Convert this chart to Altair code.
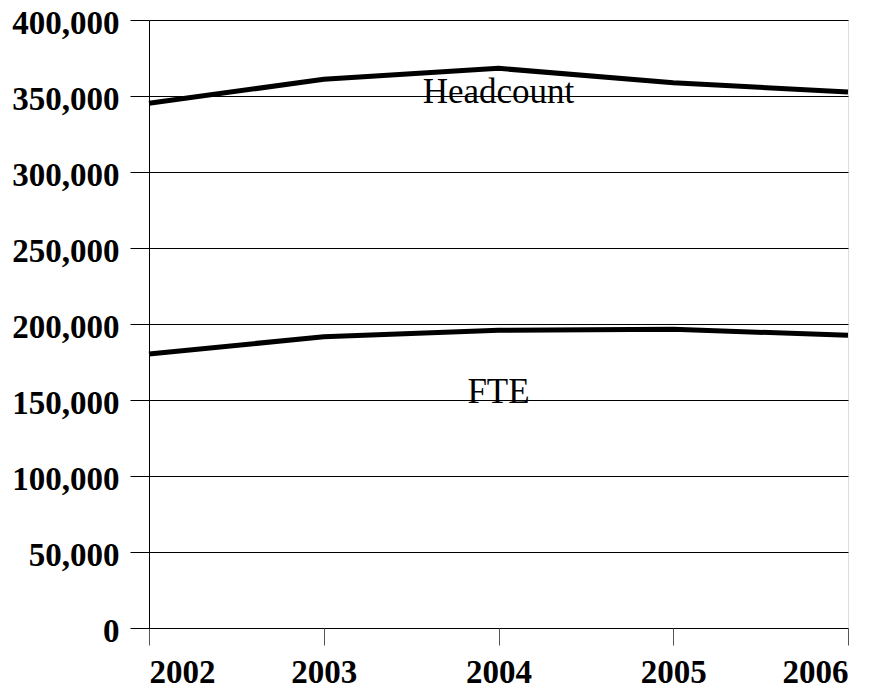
import altair as alt
import pandas as pd

years = [2002, 2003, 2004, 2005, 2006]
headcount = [345200, 361000, 368200, 358700, 352600]
fte = [180300, 191600, 195900, 196500, 192600]

label_text = ["Headcount", "FTE"]
label_year = [2004, 2004]
label_value = [345500, 148000]

rows = []
for y, v in zip(years, headcount):
    rows.append({"year": y, "value": v, "series": "Headcount"})
for y, v in zip(years, fte):
    rows.append({"year": y, "value": v, "series": "FTE"})
df = pd.DataFrame(rows)
labels = pd.DataFrame({"text": label_text, "year": label_year, "value": label_value})

x_scale = alt.Scale(domain=[2002, 2006], nice=False, zero=False)
y_scale = alt.Scale(domain=[0, 400000], nice=False)

x_axis = alt.Axis(
    values=years, format="d", grid=False, domain=False, tickColor="#555555",
    tickSize=17, labelPadding=11, labelFont="Liberation Serif", labelFontWeight="bold",
    labelFontSize=33, labelColor="black", title=None, labelOverlap=False,
)
y_axis = alt.Axis(
    values=[0, 50000, 100000, 150000, 200000, 250000, 300000, 350000, 400000],
    format=",d", grid=True, gridColor="black", gridWidth=1, gridOpacity=1,
    domain=True, domainColor="black", tickColor="black", tickSize=19,
    labelPadding=11, labelOffset=3, labelFont="Liberation Serif", labelFontWeight="bold",
    labelFontSize=33, labelColor="black", title=None,
)

lines = alt.Chart(df).mark_line(color="black", strokeWidth=5, clip=False).encode(
    x=alt.X("year:Q", scale=x_scale, axis=x_axis),
    y=alt.Y("value:Q", scale=y_scale, axis=y_axis),
    detail="series:N",
)

text = alt.Chart(labels).mark_text(
    font="Liberation Serif", fontSize=35, color="black", align="center", baseline="alphabetic"
).encode(
    x=alt.X("year:Q", scale=x_scale),
    y=alt.Y("value:Q", scale=y_scale),
    text="text:N",
)

chart = (lines + text).properties(
    width=699, height=608,
    autosize=alt.AutoSizeParams(type="none"),
    padding={"left": 141, "top": 12, "right": 30, "bottom": 62},
).configure_view(stroke="#444444", strokeWidth=1).configure(background="white")

chart.save("out.html", embed_options={"renderer": "svg", "actions": False})
